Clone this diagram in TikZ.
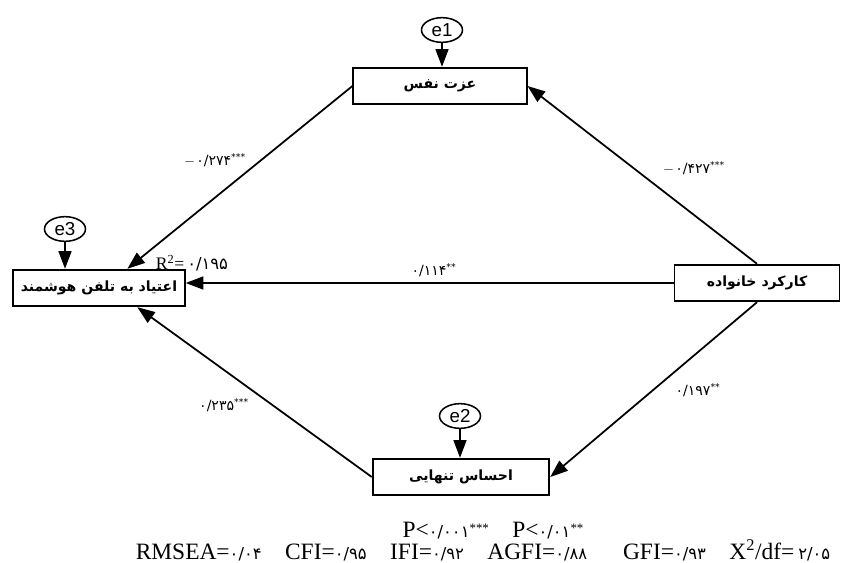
\documentclass[tikz,border=0pt]{standalone}
\usepackage{fontspec}
\setmainfont{Liberation Serif}
\setsansfont{Liberation Sans}
\newfontfamily\fa[Script=Arabic]{DejaVu Sans}
\usepackage{tikz}
\usetikzlibrary{arrows.meta}
\usetikzlibrary{shapes.geometric}
\TeXXeTstate=1
\newcommand\fanum[1]{{\fa\fontsize{14}{16}\selectfont #1}}
\newcommand\negcoef{\(-\)\kern1pt}
\newcommand\stars[1]{\raisebox{0.45ex}{\fontsize{11}{12}\selectfont #1}}
\tikzstyle{pathhead}=[>/.tip={Triangle[length=15pt,width=11pt]}]
\tikzstyle{var}=[draw,line width=1.5pt,minimum height=1.1cm,font=\fa\bfseries\fontsize{12}{14}\selectfont]
\tikzstyle{err}=[draw,ellipse,line width=1.3pt,minimum width=1.23cm,minimum height=0.74cm,inner sep=0pt,font=\sffamily\fontsize{16}{18}\selectfont]
\tikzstyle{pth}=[line width=1.5pt,pathhead,->]
\tikzstyle{coef}=[font=\fa\fontsize{12}{14}\selectfont]
\tikzstyle{fitline}=[anchor=base,inner sep=0pt,font=\fontsize{20}{22}\selectfont]

\begin{document}
\begin{tikzpicture}[x=0.03cm,y=-0.03cm]
	\useasboundingbox (0,0) rectangle (844,563);
	\node[var,minimum width=5.2cm]  (ezzat) at (440,86)  {\beginR عزت نفس\endR};
	\node[var,minimum width=5.15cm] (etiad) at (99,288)  {\beginR اعتیاد به تلفن هوشمند\endR};
	\node[var,minimum width=4.95cm] (kar)   at (757,283) {\beginR کارکرد خانواده\endR};
	\node[var,minimum width=5.3cm]  (ehsas) at (461,477) {\beginR احساس تنهایی\endR};
	\node[err] (e1) at (442,30)  {e1};
	\node[err] (e3) at (65,229)  {e3};
	\node[err] (e2) at (460,416) {e2};
	\draw[pth] (e1) -- (e1 |- ezzat.north);
	\draw[pth] (e3) -- (e3 |- etiad.north);
	\draw[pth] (e2) -- (e2 |- ehsas.north);
	\draw[pth] (kar.north) -- (ezzat.east);
	\draw[pth] (ezzat.west) -- ([xshift=0.85cm]etiad.north);
	\draw[pth] (kar.west) -- (kar.west -| etiad.east);
	\draw[pth] (ehsas.west) -- ([xshift=1.15cm]etiad.south);
	\draw[pth] (kar.south) -- (ehsas.east);
	\node[coef] (c1) at (215,160) {\negcoef۰/۲۷۴\textsuperscript{***}};
	\node[coef] (c2) at (694,168) {\negcoef۰/۴۲۷\textsuperscript{***}};
	\node[coef] (c3) at (434,270) {۰/۱۱۴\textsuperscript{**}};
	\node[coef] (c4) at (224,405) {۰/۲۳۵\textsuperscript{***}};
	\node[coef] (c5) at (698,390) {۰/۱۹۷\textsuperscript{**}};
	\node[font=\fontsize{15}{17}\selectfont] (r2) at (192,263) {R\textsuperscript{2}=\,\fanum{۰/۱۹۵}};
	\node[fitline] (sig) at (493,537) {P<\fanum{۰/۰۰۱}\stars{***}\quad P<\fanum{۰/۰۱}\stars{**}};
	\node[fitline] (fit) at (483,559) {RMSEA=\fanum{۰/۰۴}\quad CFI=\fanum{۰/۹۵}\quad IFI=\fanum{۰/۹۲}\quad AGFI=\fanum{۰/۸۸}\quad\; GFI=\fanum{۰/۹۳}\quad X\textsuperscript{2}/df=\,\fanum{۲/۰۵}};
\end{tikzpicture}
\end{document}
